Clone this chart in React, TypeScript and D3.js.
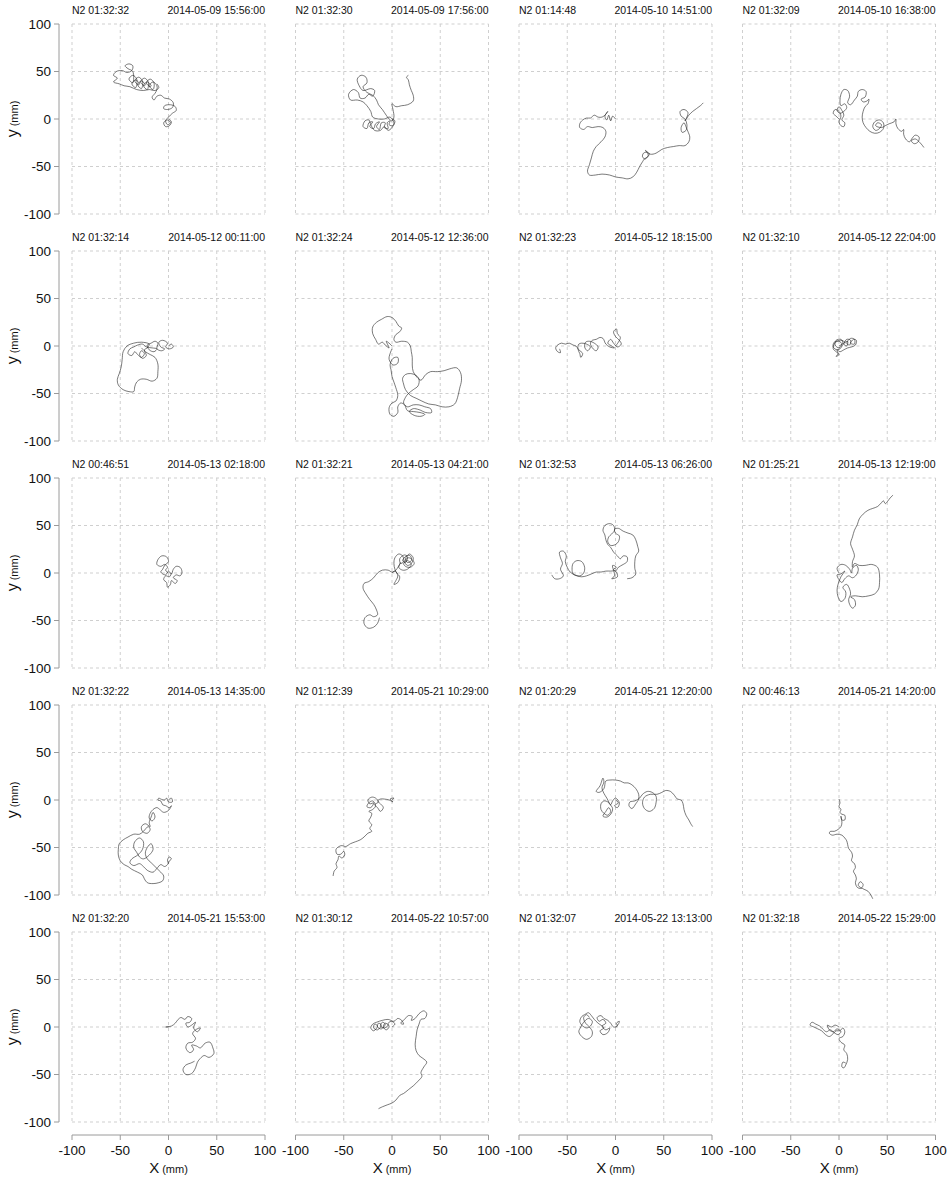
import * as d3 from "d3";

// panel titles
const wormIds = [
  "N2 01:32:32", "N2 01:32:30", "N2 01:14:48", "N2 01:32:09",
  "N2 01:32:14", "N2 01:32:24", "N2 01:32:23", "N2 01:32:10",
  "N2 00:46:51", "N2 01:32:21", "N2 01:32:53", "N2 01:25:21",
  "N2 01:32:22", "N2 01:12:39", "N2 01:20:29", "N2 00:46:13",
  "N2 01:32:20", "N2 01:30:12", "N2 01:32:07", "N2 01:32:18",
];
const dates = [
  "2014-05-09 15:56:00", "2014-05-09 17:56:00", "2014-05-10 14:51:00", "2014-05-10 16:38:00",
  "2014-05-12 00:11:00", "2014-05-12 12:36:00", "2014-05-12 18:15:00", "2014-05-12 22:04:00",
  "2014-05-13 02:18:00", "2014-05-13 04:21:00", "2014-05-13 06:26:00", "2014-05-13 12:19:00",
  "2014-05-13 14:35:00", "2014-05-21 10:29:00", "2014-05-21 12:20:00", "2014-05-21 14:20:00",
  "2014-05-21 15:53:00", "2014-05-22 10:57:00", "2014-05-22 13:13:00", "2014-05-22 15:29:00",
];
const ticks = [-100, -50, 0, 50, 100];

// tracks, [x mm, y mm]
const track1 = [[0,0],[3,-3],[1,-7],[-3,-8],[-5,-4],[-1,-1],[2,-4],[-1,-6],[-3,-2],[0,2],[4,6],[8,9],[7,13],[2,15],[-4,14],[-5,11],[-1,10],[4,12],[5,17],[1,21],[-4,22],[-8,25],[-12,24],[-15,20],[-17,23],[-14,27],[-12,31],[-12,35],[-16,39],[-20,35],[-16,31],[-15,38],[-19,42],[-23,38],[-19,34],[-18,35],[-22,39],[-26,35],[-22,31],[-21,39],[-25,43],[-29,39],[-25,35],[-24,36],[-28,40],[-32,36],[-28,32],[-27,40],[-31,44],[-35,40],[-31,36],[-30,37],[-34,41],[-38,37],[-34,33],[-33,42],[-37,46],[-41,42],[-37,38],[-37,50],[-42,53],[-45,56],[-41,58],[-37,56],[-38,51],[-43,49],[-48,51],[-54,50],[-57,46],[-53,43],[-57,39],[-51,37],[-46,35],[-40,34],[-33,31],[-26,30],[-20,31],[-14,30],[-10,33],[-12,37]];
const track2 = [[0,0],[3,-2],[1,-7],[-3,-6],[-2,-2],[-5,-4],[-4,-10],[-8,-9],[-7,-4],[-11,-4],[-13,-11],[-16,-8],[-13,-3],[-17,-5],[-19,-10],[-23,-8],[-20,-3],[-24,-4],[-26,-10],[-30,-8],[-28,-2],[-24,-1],[-22,-6],[-18,-12],[-12,-12],[-8,-8],[-4,-12],[0,-9],[2,-4],[-2,2],[-8,0],[-14,0],[-20,2],[-22,8],[-26,14],[-30,18],[-36,20],[-43,20],[-45,26],[-40,31],[-35,28],[-33,22],[-28,22],[-24,26],[-20,24],[-18,30],[-22,32],[-30,30],[-34,35],[-36,42],[-32,46],[-27,44],[-26,38],[-30,34],[-26,28],[-20,25],[-16,20],[-14,15],[-10,10],[-6,4],[-3,0],[0,-2],[2,2],[1,10],[0,16],[4,13],[10,14],[16,15],[22,19],[22,25],[20,30],[18,36],[17,41],[15,44],[17,46]];
const track3 = [[0,0],[-3,3],[-5,-2],[-7,4],[-9,-1],[-11,3],[-8,8],[-10,5],[-14,2],[-18,2],[-22,4],[-26,1],[-30,1],[-34,-1],[-37,-5],[-37,-9],[-33,-11],[-29,-8],[-24,-9],[-18,-8],[-13,-9],[-10,-13],[-11,-19],[-15,-24],[-20,-29],[-23,-34],[-25,-41],[-27,-48],[-29,-55],[-27,-59],[-21,-59],[-14,-58],[-6,-59],[0,-61],[7,-62],[13,-63],[18,-61],[22,-56],[25,-50],[28,-45],[30,-42],[33,-40],[35,-37],[33,-35],[29,-36],[28,-40],[31,-42],[34,-38],[31,-33],[36,-37],[42,-36],[48,-32],[54,-30],[60,-29],[66,-28],[72,-28],[76,-24],[77,-19],[75,-13],[73,-8],[71,-4],[68,-9],[69,-14],[73,-12],[74,-6],[72,0],[68,3],[67,8],[71,10],[75,7],[74,2],[72,-2],[76,4],[80,8],[84,11],[88,14],[91,17]];
const track4 = [[0,0],[-3,3],[-6,6],[-4,10],[0,8],[2,3],[0,-3],[2,-7],[5,-8],[6,-4],[3,-1],[5,4],[3,9],[0,13],[-2,9],[1,6],[5,8],[8,12],[6,16],[2,14],[1,19],[2,26],[5,31],[9,30],[11,24],[9,17],[12,15],[16,20],[19,24],[20,29],[24,31],[28,29],[27,23],[23,21],[25,18],[29,19],[31,21],[30,16],[27,13],[25,8],[24,2],[25,-4],[28,-9],[32,-13],[37,-15],[42,-14],[46,-10],[46,-4],[42,-1],[37,-3],[35,-8],[38,-12],[42,-10],[44,-6],[40,-4],[38,-7],[44,-9],[48,-7],[52,-5],[57,-3],[59,0],[59,-5],[61,-10],[65,-13],[67,-11],[67,-16],[69,-21],[73,-24],[76,-20],[79,-17],[83,-19],[82,-24],[78,-26],[75,-23],[79,-21],[84,-25],[88,-30]];
const track5 = [[0,0],[3,2],[5,-1],[1,-3],[-3,-1],[-1,3],[-6,6],[-10,4],[-8,-1],[-4,-3],[-7,-5],[-12,-3],[-11,3],[-14,5],[-18,3],[-22,1],[-20,-4],[-15,-6],[-12,-3],[-17,-2],[-23,-1],[-27,2],[-32,1],[-36,-1],[-40,-3],[-42,-8],[-38,-10],[-35,-6],[-32,-9],[-28,-12],[-25,-8],[-28,-5],[-30,-9],[-27,-13],[-23,-10],[-25,-4],[-22,-2],[-20,2],[-28,4],[-36,3],[-43,0],[-47,-6],[-48,-14],[-49,-22],[-51,-29],[-53,-35],[-52,-41],[-47,-46],[-41,-48],[-36,-48],[-35,-43],[-33,-38],[-29,-35],[-23,-35],[-17,-37],[-12,-34],[-11,-27],[-11,-19],[-14,-12],[-19,-9],[-24,-6],[-28,-2]];
const track6 = [[0,0],[-3,3],[-6,5],[-3,-2],[-7,1],[-10,4],[-14,2],[-17,7],[-20,13],[-20,20],[-16,25],[-11,28],[-5,31],[0,30],[4,26],[7,21],[10,19],[8,15],[4,12],[2,7],[4,4],[10,5],[16,4],[19,0],[20,-6],[21,-12],[21,-20],[22,-27],[26,-33],[30,-36],[35,-30],[40,-27],[47,-27],[54,-26],[60,-24],[67,-23],[71,-28],[72,-36],[70,-45],[68,-54],[65,-61],[59,-64],[52,-64],[45,-62],[38,-61],[31,-58],[25,-55],[19,-52],[14,-46],[12,-40],[11,-34],[14,-30],[19,-29],[25,-31],[28,-35],[27,-42],[22,-46],[17,-50],[14,-54],[12,-60],[16,-64],[22,-62],[28,-62],[34,-64],[40,-66],[41,-70],[35,-70],[28,-67],[22,-66],[18,-69],[23,-73],[30,-74],[34,-72],[29,-70],[22,-69],[16,-68],[13,-62],[9,-60],[6,-64],[6,-70],[2,-74],[-2,-72],[-3,-65],[0,-60],[4,-58],[6,-52],[4,-44],[2,-38],[0,-32],[-1,-25],[-2,-20],[1,-13],[6,-12],[6,-18],[1,-20],[-3,-14],[-2,-8],[0,-3]];
const track7 = [[0,0],[3,4],[5,9],[2,13],[1,18],[-2,15],[0,10],[4,6],[6,2],[2,-1],[-2,3],[-5,7],[-8,3],[-4,0],[-1,-2],[-6,-1],[-10,2],[-13,8],[-16,9],[-20,7],[-24,6],[-26,3],[-24,-2],[-20,-5],[-18,-1],[-22,3],[-27,5],[-31,4],[-32,-1],[-29,-5],[-26,-1],[-30,2],[-35,3],[-38,2],[-39,-3],[-37,-8],[-36,-12],[-34,-8],[-38,-4],[-41,0],[-44,1],[-48,3],[-52,2],[-56,3],[-60,1],[-62,-2],[-60,-6],[-57,-7],[-58,-3]];
const track8 = [[0,0],[4,3],[2,7],[-3,6],[-4,1],[0,-2],[3,2],[0,5],[-5,4],[-6,-1],[-2,-4],[2,-2],[5,3],[9,5],[8,0],[5,2],[8,7],[12,6],[11,1],[8,3],[12,8],[16,7],[16,2],[12,3],[15,7],[18,6],[17,1],[13,-1],[9,-2],[5,-4],[1,-6],[-2,-4],[-1,-8],[-3,-11],[0,-9],[-3,-6],[-6,-3],[-5,2],[-2,5],[3,6],[7,3]];
const track9 = [[0,0],[-3,3],[-1,6],[-4,9],[-8,7],[-12,9],[-11,14],[-7,18],[-2,17],[0,12],[-4,8],[-6,4],[-8,1],[-3,-2],[0,2],[3,-1],[5,4],[8,7],[12,6],[14,1],[12,-3],[8,-2],[5,-5],[9,-8],[7,-11],[3,-8],[2,-12],[-1,-15],[-2,-10],[-5,-7],[-3,-3],[1,-4],[3,0]];
const track10 = [[0,0],[3,2],[6,-3],[4,-8],[2,-12],[6,-10],[8,-4],[5,0],[3,4],[2,10],[3,16],[7,20],[11,18],[12,12],[9,10],[8,15],[13,19],[16,17],[14,11],[11,13],[15,18],[19,18],[20,13],[16,11],[14,15],[18,20],[22,16],[20,10],[16,8],[13,12],[17,16],[21,14],[23,10],[19,6],[14,7],[12,10],[16,13],[20,9],[16,4],[11,3],[7,6],[9,11],[4,3],[0,1],[-4,3],[-10,3],[-15,0],[-19,-5],[-24,-9],[-29,-11],[-30,-16],[-27,-22],[-23,-28],[-19,-33],[-16,-39],[-15,-44],[-19,-46],[-23,-44],[-28,-47],[-29,-53],[-25,-58],[-19,-57],[-15,-53],[-13,-47]];
const track11 = [[12,-6],[17,-5],[21,-1],[20,5],[20,12],[21,18],[24,23],[23,28],[21,35],[18,40],[13,42],[8,44],[3,47],[-1,46],[0,42],[4,39],[3,33],[0,30],[-5,29],[-8,33],[-7,38],[-4,41],[-1,45],[-2,50],[-6,52],[-11,50],[-13,45],[-11,40],[-10,35],[-8,30],[-5,27],[-2,22],[2,18],[5,15],[8,18],[12,17],[12,12],[8,9],[3,6],[0,2],[-2,4],[1,6],[-3,8],[-1,-3],[-4,-6],[2,-4],[0,2],[-5,2],[-10,2],[-15,1],[-20,1],[-25,-1],[-30,-3],[-35,-4],[-40,-3],[-44,-1],[-45,4],[-44,10],[-40,13],[-35,12],[-32,6],[-33,0],[-37,-3],[-42,-2],[-47,1],[-50,6],[-52,12],[-51,18],[-54,23],[-58,22],[-57,16],[-55,10],[-57,4],[-54,-3],[-58,-6],[-63,-6],[-66,-2]];
const track12 = [[0,0],[-2,5],[2,9],[7,8],[11,4],[13,0],[14,5],[18,8],[20,4],[18,-2],[14,-5],[10,-3],[6,-6],[3,-10],[0,-7],[-2,-2],[2,-1],[6,2],[2,-4],[-1,-12],[-2,-18],[-1,-25],[2,-30],[6,-27],[7,-20],[4,-15],[8,-12],[11,-17],[12,-22],[10,-28],[11,-33],[14,-37],[17,-34],[16,-28],[12,-25],[17,-24],[24,-25],[31,-24],[37,-22],[41,-17],[42,-10],[42,-2],[40,6],[34,9],[27,8],[21,8],[16,10],[14,6],[14,12],[16,18],[14,25],[12,31],[14,38],[16,45],[19,51],[21,57],[25,62],[30,66],[35,68],[40,70],[44,74],[46,76],[48,73],[50,75],[53,79],[56,82]];
const track13 = [[0,0],[3,2],[4,-2],[0,-2],[-2,2],[-4,0],[-8,1],[-10,2],[-11,0],[-8,-1],[-6,-5],[-3,-6],[1,-8],[3,-6],[0,-11],[-5,-13],[-9,-10],[-12,-8],[-16,-10],[-19,-14],[-20,-19],[-17,-22],[-14,-18],[-16,-13],[-18,-18],[-20,-24],[-19,-28],[-24,-25],[-28,-28],[-27,-33],[-22,-35],[-19,-31],[-21,-28],[-26,-33],[-30,-36],[-36,-36],[-42,-39],[-47,-42],[-51,-46],[-52,-52],[-52,-58],[-50,-64],[-46,-68],[-42,-70],[-38,-73],[-32,-76],[-27,-79],[-25,-83],[-22,-87],[-16,-88],[-10,-87],[-6,-85],[-5,-80],[-8,-76],[-11,-73],[-14,-70],[-18,-66],[-22,-62],[-24,-56],[-22,-50],[-18,-46],[-16,-52],[-20,-58],[-26,-62],[-30,-60],[-33,-55],[-36,-50],[-35,-44],[-30,-40],[-26,-44],[-27,-52],[-32,-58],[-38,-62],[-40,-66],[-36,-69],[-30,-67],[-26,-70],[-22,-74],[-16,-76],[-12,-72],[-8,-68],[-4,-70],[-1,-68],[1,-64],[3,-62],[1,-60],[-1,-63],[0,-67]];
const track14 = [[0,0],[2,2],[-2,1],[1,-2],[-3,0],[-8,1],[-12,1],[-15,-1],[-12,-4],[-9,-8],[-12,-12],[-15,-8],[-18,-5],[-14,-2],[-17,2],[-21,3],[-25,0],[-23,-4],[-19,-3],[-22,-8],[-26,-7],[-24,-3],[-20,-1],[-17,-6],[-20,-10],[-24,-12],[-21,-14],[-22,-18],[-24,-22],[-21,-26],[-23,-30],[-21,-33],[-25,-35],[-29,-39],[-33,-42],[-38,-44],[-43,-46],[-48,-49],[-52,-48],[-55,-49],[-58,-52],[-57,-57],[-53,-57],[-50,-54],[-49,-58],[-52,-61],[-55,-59],[-56,-63],[-58,-67],[-57,-71],[-60,-75],[-61,-80]];
const track15 = [[0,0],[3,-3],[-1,-6],[2,-8],[4,-3],[0,2],[-3,-1],[-5,-5],[-8,-2],[-12,-1],[-15,-4],[-15,-10],[-12,-14],[-8,-16],[-5,-12],[-7,-8],[-10,-12],[-13,-17],[-9,-18],[-5,-15],[-3,-9],[-6,-4],[-9,2],[-12,7],[-14,13],[-12,19],[-13,23],[-16,15],[-20,9],[-17,8],[-12,12],[-10,20],[-6,21],[0,21],[5,20],[9,18],[13,18],[17,16],[21,12],[24,6],[24,1],[21,-4],[17,-9],[14,-6],[15,-2],[20,-1],[25,2],[28,6],[33,9],[38,8],[42,4],[42,-3],[40,-9],[35,-12],[30,-9],[28,-3],[30,3],[36,6],[43,6],[48,8],[52,10],[57,9],[61,5],[64,1],[68,0],[70,-4],[71,-10],[73,-16],[76,-21],[78,-25],[80,-28]];
const track16 = [[0,1],[1,-3],[0,-7],[2,-10],[1,-13],[3,-15],[6,-16],[6,-21],[3,-21],[2,-17],[3,-24],[2,-28],[-1,-31],[-5,-33],[-9,-33],[-10,-35],[-7,-37],[-2,-36],[3,-37],[6,-40],[8,-43],[9,-47],[10,-51],[13,-55],[14,-59],[13,-64],[16,-67],[17,-71],[15,-75],[17,-79],[18,-83],[17,-87],[19,-92],[23,-93],[25,-89],[22,-86],[20,-90],[26,-94],[30,-96],[33,-100],[35,-104]];
const track17 = [[0,0],[-3,0],[3,1],[7,4],[10,8],[13,10],[17,8],[20,11],[24,9],[22,5],[18,4],[20,0],[24,2],[28,5],[26,-1],[30,-5],[33,-1],[28,-3],[25,-7],[28,-12],[25,-16],[20,-17],[18,-22],[22,-27],[26,-24],[24,-19],[29,-20],[33,-22],[38,-17],[43,-16],[46,-22],[47,-28],[42,-32],[37,-30],[33,-33],[30,-37],[28,-43],[24,-49],[18,-50],[15,-45],[18,-40],[23,-38],[27,-36]];
const track18 = [[0,0],[3,3],[0,6],[-4,4],[-3,0],[-6,-3],[-9,0],[-7,4],[-4,2],[-8,-1],[-12,1],[-10,5],[-7,3],[-11,-2],[-15,0],[-14,4],[-11,2],[-15,-3],[-19,-1],[-18,3],[-15,1],[-19,-4],[-22,-1],[-20,3],[-16,5],[-10,7],[-4,8],[2,6],[6,9],[10,7],[12,3],[9,4],[13,8],[17,12],[21,11],[20,7],[24,9],[28,14],[33,17],[36,14],[34,9],[30,8],[28,3],[26,-3],[25,-10],[24,-18],[25,-25],[28,-30],[32,-33],[36,-37],[33,-42],[30,-48],[31,-52],[27,-57],[22,-62],[17,-66],[12,-70],[8,-72],[4,-77],[0,-80],[-5,-82],[-10,-84],[-14,-86]];
const track19 = [[0,0],[3,3],[4,6],[1,4],[2,1],[-2,0],[-5,4],[-8,7],[-12,9],[-15,12],[-19,10],[-17,6],[-13,8],[-10,4],[-14,1],[-10,-3],[-6,-1],[-8,-6],[-13,-8],[-16,-4],[-12,-1],[-18,4],[-22,8],[-25,12],[-28,15],[-32,13],[-35,11],[-37,6],[-35,2],[-30,-1],[-26,1],[-24,6],[-28,9],[-33,5],[-36,0],[-38,-5],[-35,-10],[-30,-13],[-25,-10],[-24,-5],[-27,0],[-31,4],[-33,10],[-30,13],[-27,10]];
const track20 = [[0,0],[-4,2],[-8,0],[-12,2],[-10,-3],[-6,-5],[-2,-2],[2,-5],[-1,-8],[-5,-6],[-9,-3],[-13,-5],[-17,-2],[-20,1],[-24,3],[-28,5],[-30,2],[-26,0],[-22,-2],[-18,-4],[-14,-8],[-10,-10],[-6,-7],[-3,-4],[1,-4],[4,-1],[6,-5],[4,-10],[0,-12],[2,-16],[6,-19],[5,-24],[8,-28],[9,-34],[7,-40],[5,-43],[3,-42],[4,-37],[7,-38]];

const tracks = [
  track1, track2, track3, track4, track5, track6, track7, track8, track9, track10,
  track11, track12, track13, track14, track15, track16, track17, track18, track19, track20,
];

const W = 951;
const H = 1180;
const left0 = 72;
const colStep = 223.5;
const top0 = 24;
const rowStep = 227;
const pw = 193;
const ph = 190;
const font = "'Liberation Sans', Arial, sans-serif";

const x = d3.scaleLinear().domain([-100, 100]).range([0, pw]);
const y = d3.scaleLinear().domain([-100, 100]).range([ph, 0]);
const line = d3
  .line<number[]>()
  .x((d) => x(d[0]))
  .y((d) => y(d[1]))
  .curve(d3.curveCatmullRom.alpha(0.5));

const Panel = ({ i }: { i: number }) => {
  const col = i % 4;
  const row = Math.floor(i / 4);
  const tx = left0 + col * colStep;
  const ty = top0 + row * rowStep;
  return (
    <g transform={`translate(${tx},${ty})`}>
      {ticks.map((t) => (
        <g key={t}>
          <line x1={x(t)} x2={x(t)} y1={0} y2={ph} stroke="#cfcfcf" strokeDasharray="3,3" />
          <line x1={0} x2={pw} y1={y(t)} y2={y(t)} stroke="#cfcfcf" strokeDasharray="3,3" />
        </g>
      ))}
      <path d={line(tracks[i]) || ""} fill="none" stroke="#222" strokeWidth={0.6} />
      <text x={0} y={-10} fontSize={10.5} fontFamily={font} fill="#111">
        {wormIds[i]}
      </text>
      <text x={pw} y={-10} fontSize={10.5} fontFamily={font} fill="#111" textAnchor="end">
        {dates[i]}
      </text>
      {col === 0 && (
        <g>
          <line x1={-13} x2={-13} y1={0} y2={ph} stroke="#9a9a9a" />
          {ticks.map((t) => (
            <g key={t}>
              <line x1={-18} x2={-13} y1={y(t)} y2={y(t)} stroke="#9a9a9a" />
              <text x={-21} y={y(t)} dy="0.35em" fontSize={13.5} fontFamily={font} textAnchor="end" fill="#111">
                {t}
              </text>
            </g>
          ))}
          <text
            transform={`translate(-54,${ph / 2}) rotate(-90)`}
            textAnchor="middle"
            fontFamily={font}
            fill="#111"
          >
            <tspan fontSize={16}>y</tspan>
            <tspan fontSize={11}> (mm)</tspan>
          </text>
        </g>
      )}
      {row === 4 && (
        <g transform={`translate(0,${ph + 13})`}>
          <line x1={0} x2={pw} y1={0} y2={0} stroke="#9a9a9a" />
          {ticks.map((t) => (
            <g key={t}>
              <line x1={x(t)} x2={x(t)} y1={0} y2={5} stroke="#9a9a9a" />
              <text x={x(t)} y={20} fontSize={13.5} fontFamily={font} textAnchor="middle" fill="#111">
                {t}
              </text>
            </g>
          ))}
          <text x={pw / 2} y={38} textAnchor="middle" fontFamily={font} fill="#111">
            <tspan fontSize={15}>X</tspan>
            <tspan fontSize={11}> (mm)</tspan>
          </text>
        </g>
      )}
    </g>
  );
};

export default function App() {
  return (
    <div style={{ position: "absolute", left: 0, top: 0 }}>
      <svg width={W} height={H} style={{ display: "block", background: "#fff" }}>
        {tracks.map((_, i) => (
          <Panel key={i} i={i} />
        ))}
      </svg>
    </div>
  );
}
